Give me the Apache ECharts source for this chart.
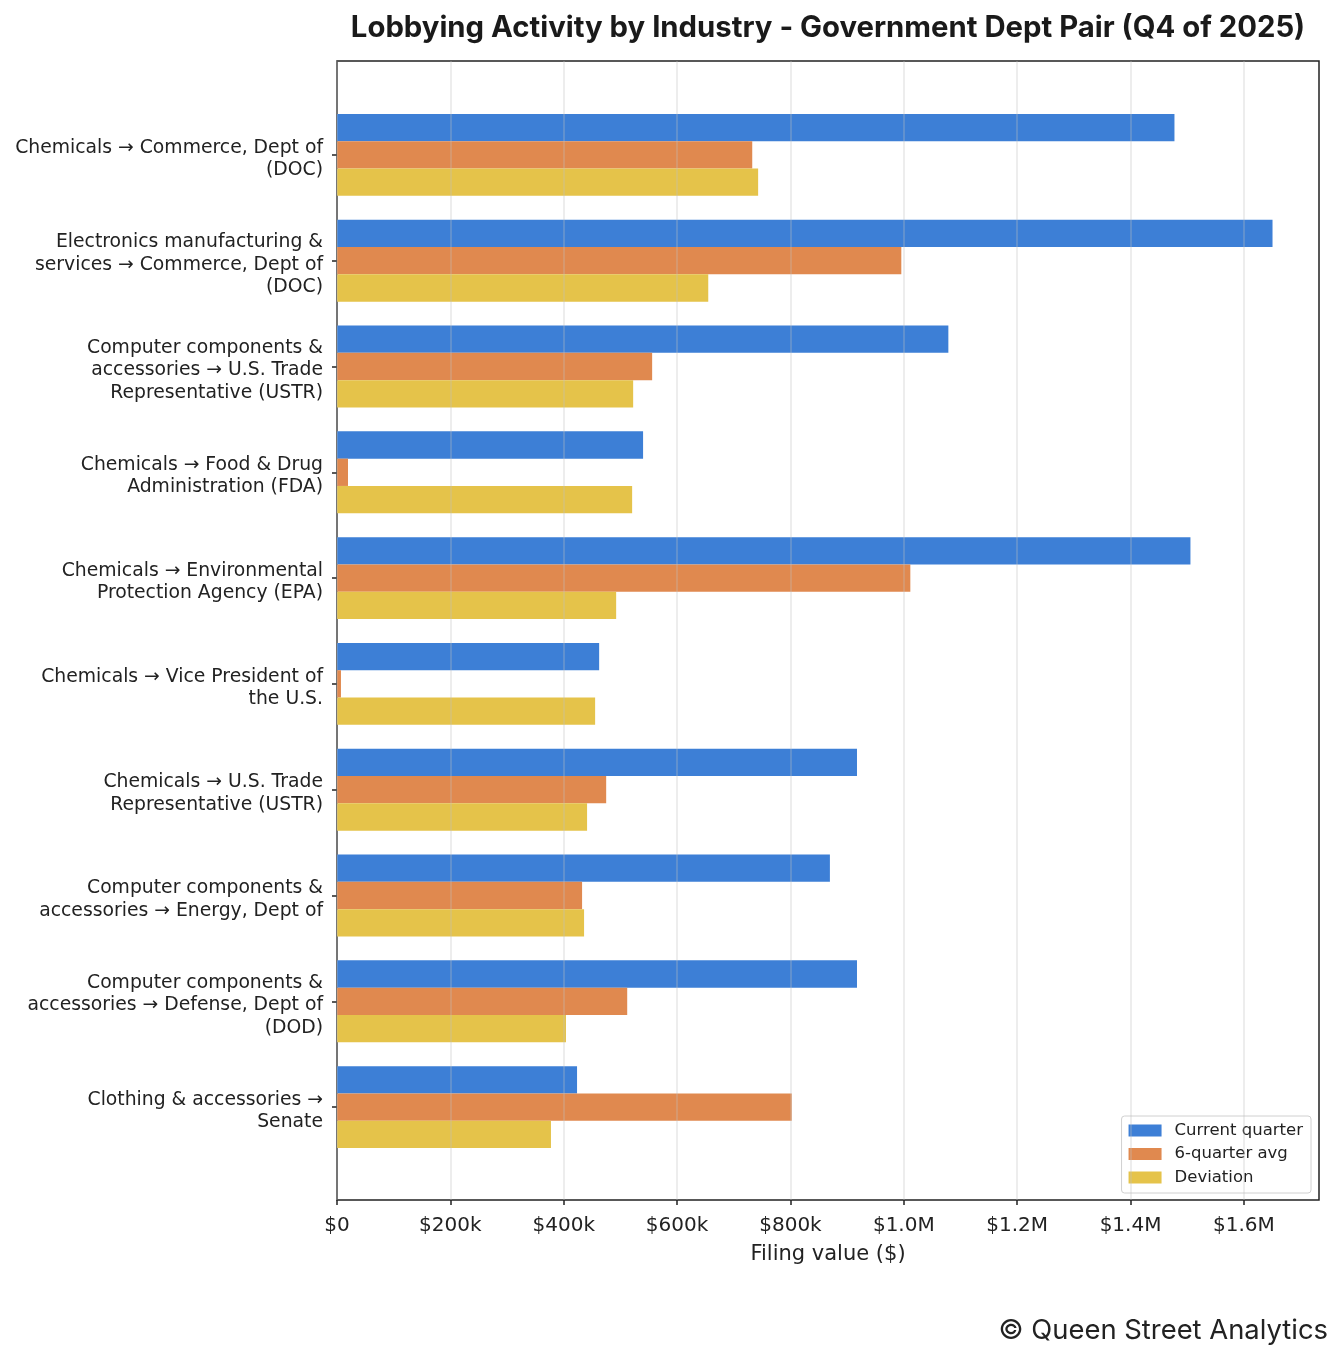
<!DOCTYPE html>
<html lang="en">
    <head>
        <meta charset="UTF-8">
        <script src="https://cdn.jsdelivr.net/npm/echarts@6/dist/echarts.min.js"></script>
        <title>Lobbying Activity</title>
        <style>
            html, body { margin: 0; padding: 0; background: #fff; }
        </style>
    </head>
    <body>
        <div id="chart" style="width: 1344px; height: 1359px;"></div>
    </body>
    <script>
        // industry -> government dept pairs, top to bottom
        var pairs = [
            "Chemicals → Commerce, Dept of (DOC)",
            "Electronics manufacturing & services → Commerce, Dept of (DOC)",
            "Computer components & accessories → U.S. Trade Representative (USTR)",
            "Chemicals → Food & Drug Administration (FDA)",
            "Chemicals → Environmental Protection Agency (EPA)",
            "Chemicals → Vice President of the U.S.",
            "Chemicals → U.S. Trade Representative (USTR)",
            "Computer components & accessories → Energy, Dept of",
            "Computer components & accessories → Defense, Dept of (DOD)",
            "Clothing & accessories → Senate"
        ];
        var currentQuarter = [1477500, 1650500, 1078600, 540000, 1505700, 462500, 917400, 869600, 917400, 423500];
        var sixQuarterAvg  = [732600, 995600, 556000, 19400, 1011500, 7000, 474900, 432400, 512000, 802300];
        var deviation      = [743000, 655000, 522500, 520700, 492500, 455400, 441200, 435900, 404000, 377500];
        var xTicks = [0, 200000, 400000, 600000, 800000, 1000000, 1200000, 1400000, 1600000];
        var xMax = 1732500;

        // wrap label text at 30 chars, like textwrap
        function wrap(s, width) {
            var words = s.split(" "), lines = [], cur = "";
            words.forEach(function (w) {
                if (cur === "") cur = w;
                else if ((cur + " " + w).length <= width) cur += " " + w;
                else { lines.push(cur); cur = w; }
            });
            if (cur) lines.push(cur);
            return lines;
        }

        function money(v) {
            if (v === 0) return "$0";
            if (v >= 1000000) return "$" + (v / 1000000).toFixed(1) + "M";
            return "$" + Math.round(v / 1000) + "k";
        }

        var myCharts = echarts.init(document.getElementById("chart"));
        var dark = "#222";
        var tickFont = "DejaVu Sans";

        var option = {
            backgroundColor: "#fff",
            animation: false,
            title: {
                text: "Lobbying Activity by Industry - Government Dept Pair (Q4 of 2025)",
                left: 823,
                textAlign: "center",
                top: 9,
                textStyle: { fontFamily: "Inter", fontWeight: "bold", fontSize: 29.3, color: "#1a1a1a" }
            },
            legend: {
                orient: "vertical",
                right: 33,
                bottom: 166,
                icon: "rect",
                itemWidth: 33,
                itemHeight: 12,
                itemGap: 6.5,
                padding: [6, 8, 7, 7],
                borderColor: "#d0d0d0",
                borderWidth: 1,
                borderRadius: 3,
                backgroundColor: "rgba(255,255,255,0.85)",
                textStyle: { fontFamily: tickFont, fontSize: 16.5, color: dark, padding: [0, 0, 0, 8] },
                data: ["Current quarter", "6-quarter avg", "Deviation"]
            },
            grid: [
                // frame grid: spines, gridlines and x ticks
                { left: 337, right: 25, top: 61, bottom: 159, show: true, borderColor: dark, borderWidth: 1.5, backgroundColor: "transparent" },
                // bar grid, inset so category spacing matches
                { left: 337, right: 25, top: 102, height: 1058 }
            ],
            xAxis: [
                {
                    gridIndex: 0,
                    type: "value",
                    min: 0,
                    max: xMax,
                    interval: 200000,
                    z: 5,
                    name: "Filing value ($)",
                    nameLocation: "middle",
                    nameGap: 44,
                    nameTextStyle: { fontFamily: tickFont, fontSize: 21, color: dark },
                    axisLine: { show: false },
                    axisTick: { show: true, length: 5, lineStyle: { color: dark, width: 1.5 }, customValues: xTicks },
                    axisLabel: { fontFamily: tickFont, fontSize: 20, color: dark, margin: 16, formatter: money, customValues: xTicks },
                    splitLine: { show: true, lineStyle: { color: "rgba(190,190,190,0.38)", width: 1.5 } }
                },
                {
                    gridIndex: 1,
                    type: "value",
                    min: 0,
                    max: xMax,
                    show: false
                }
            ],
            yAxis: [
                { gridIndex: 0, type: "value", show: false },
                {
                    gridIndex: 1,
                    type: "category",
                    inverse: true,
                    data: pairs,
                    axisLine: { show: false },
                    axisTick: { show: true, alignWithLabel: true, length: 5, lineStyle: { color: dark, width: 1.5 } },
                    axisLabel: {
                        margin: 14,
                        align: "right",
                        // small empty first line nudges the block down like matplotlib
                        formatter: function (v) {
                            return "{gap| }\n" + wrap(v, 30).map(function (l) { return "{t|" + l + "}"; }).join("\n");
                        },
                        rich: {
                            gap: { fontSize: 1, lineHeight: 8, height: 8 },
                            t: { fontFamily: tickFont, fontSize: 18.8, lineHeight: 22.5, color: dark, align: "right" }
                        }
                    },
                    splitLine: { show: false }
                }
            ],
            series: [
                { name: "Current quarter", type: "bar", xAxisIndex: 1, yAxisIndex: 1, data: currentQuarter, barWidth: 27.3, barGap: "0%", itemStyle: { color: "#3d7fd6" } },
                { name: "6-quarter avg", type: "bar", xAxisIndex: 1, yAxisIndex: 1, data: sixQuarterAvg, barWidth: 27.3, barGap: "0%", itemStyle: { color: "#e0894f" } },
                { name: "Deviation", type: "bar", xAxisIndex: 1, yAxisIndex: 1, data: deviation, barWidth: 27.3, barGap: "0%", itemStyle: { color: "#e5c34a" } }
            ],
            graphic: [
                {
                    type: "text",
                    right: 16,
                    top: 1317,
                    style: { text: "© Queen Street Analytics", font: "27.4px Inter", fill: "#222" }
                }
            ]
        };
        myCharts.setOption(option);
    </script>
</html>
